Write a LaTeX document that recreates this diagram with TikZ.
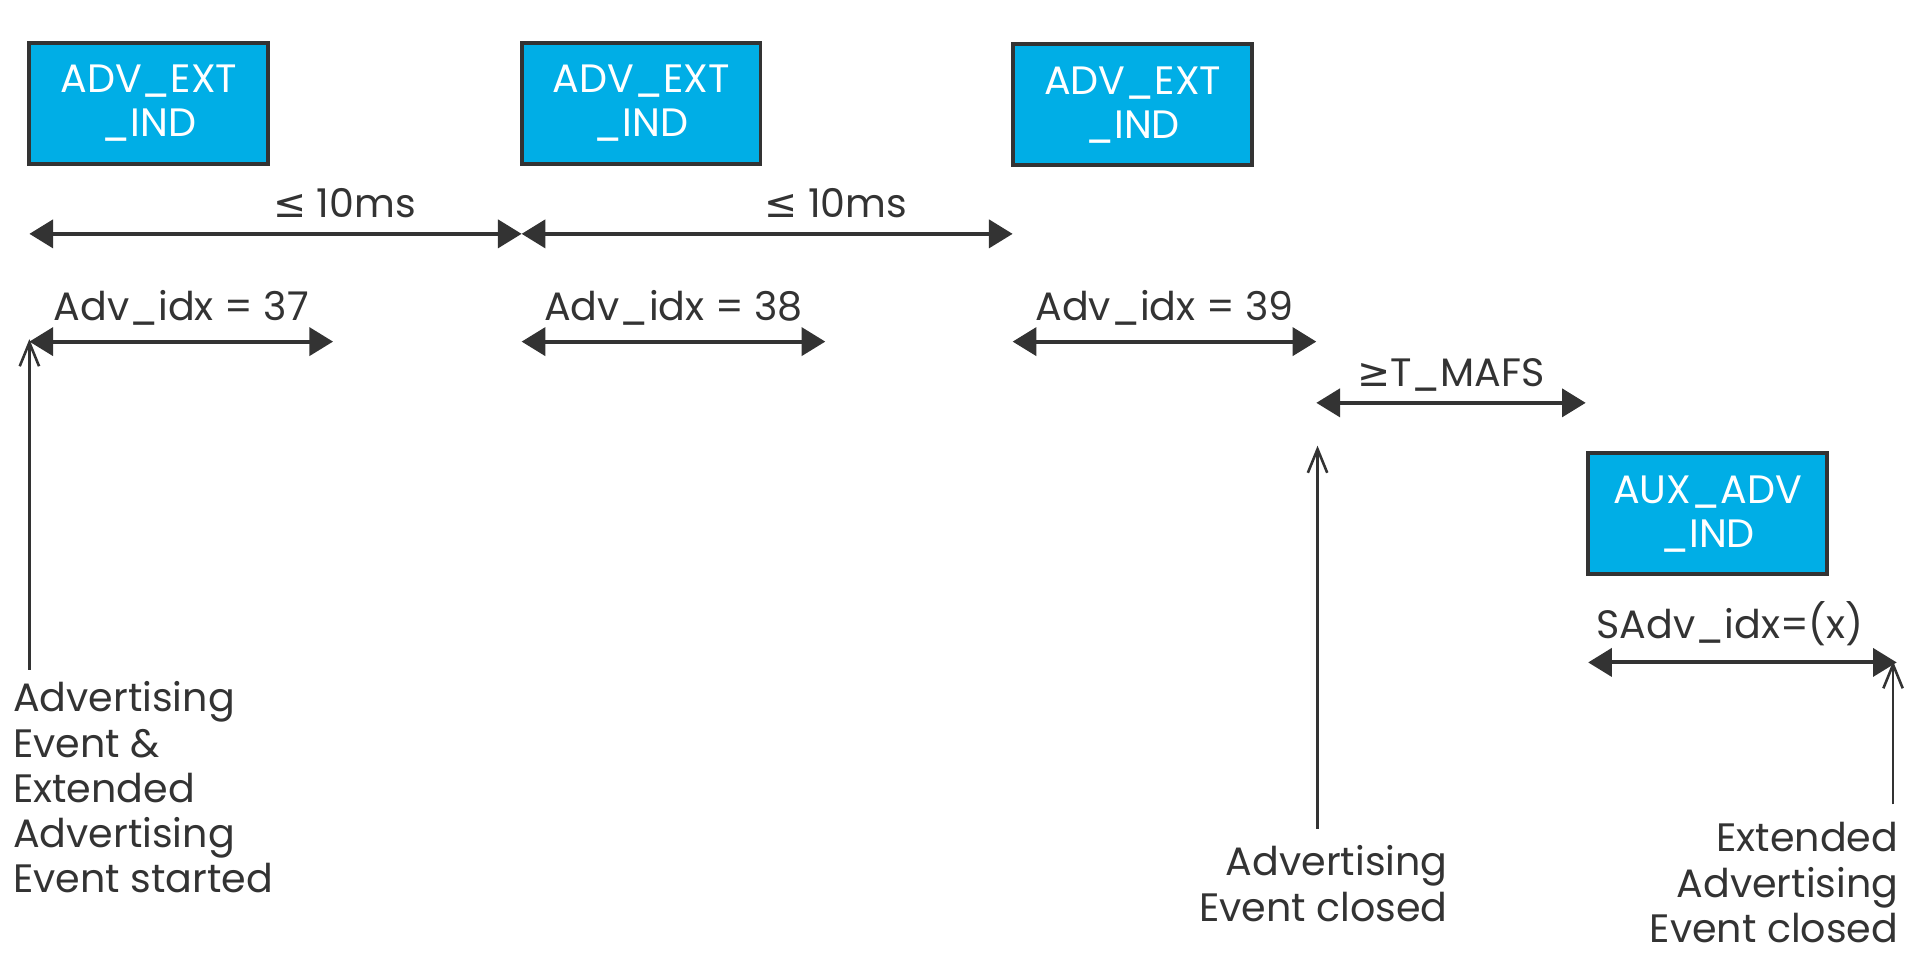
\documentclass[tikz,border=0pt]{standalone}
\usepackage{fontspec}
\setmainfont{Poppins}
\newfontfamily\relfont{DejaVu Sans}
\usetikzlibrary{arrows.meta}

\definecolor{pducyan}{HTML}{00AEE6}
\definecolor{linegray}{HTML}{333333}

\begin{document}
\begin{tikzpicture}[x=0.01cm, y=-0.01cm,
    every node/.style={font=\fontsize{9.2}{10.5}\selectfont, text=linegray},
    pdu/.style={draw=linegray, line width=0.9pt, fill=pducyan, text=white,
        font=\fontsize{9.2}{10.2}\selectfont,
        minimum width=1.95cm, minimum height=0.99cm, align=center, inner sep=0pt},
    dim/.style={linegray, line width=0.9pt, {Triangle[length=5.5pt,width=6.5pt]}-{Triangle[length=5.5pt,width=6.5pt]}},
    evt/.style={linegray, line width=0.6pt, -{Straight Barb[length=5.5pt,width=4.5pt]}}]
            \useasboundingbox (0,0) rectangle (1568,783);

            % PDUs on the primary and secondary channels
            \node (ext_a) at (121.5, 84.5) [pdu] {ADV\_EXT\\\_IND};
            \node (ext_b) at (523.5, 84.5) [pdu] {ADV\_EXT\\\_IND};
            \node (ext_c) at (925, 85.5) [pdu] {ADV\_EXT\\\_IND};
            \node (aux) at (1394.5, 419.5) [pdu] {AUX\_ADV\\\_IND};

            % spacing between the PDUs
            \coordinate (gap_a) at (24, 191);
            \coordinate (gap_b) at (426, 191);
            \coordinate (gap_c) at (827, 191);

            \draw [dim] (gap_a) -- (gap_b) node[pos=0.64, above=0pt] {{\relfont ≤} 10ms};
            \draw [dim] (gap_b) -- (gap_c) node[pos=0.64, above=0pt] {{\relfont ≤} 10ms};

            % length of each PDU
            \coordinate (len_a1) at (24, 279);
            \coordinate (len_a2) at (272, 279);
            \coordinate (len_b1) at (426, 279);
            \coordinate (len_b2) at (674, 279);
            \coordinate (len_c1) at (827, 279);
            \coordinate (len_c2) at (1075, 279);

            \draw [dim] (len_a1) -- (len_a2) node[midway, above=0pt] {Adv\_idx = 37};
            \draw [dim] (len_b1) -- (len_b2) node[midway, above=0pt] {Adv\_idx = 38};
            \draw [dim] (len_c1) -- (len_c2) node[midway, above=0pt] {Adv\_idx = 39};

            \coordinate (mafs_a) at (1075, 329);
            \coordinate (mafs_b) at (1295, 329);
            \draw [dim] (mafs_a) -- (mafs_b) node[midway, above=-1pt] {{\relfont ≥}T\_MAFS};

            \coordinate (aux_a) at (1297, 541);
            \coordinate (aux_b) at (1549, 541);
            \draw [dim] (aux_a) -- (aux_b) node[pos=0.46, above=0pt] {SAdv\_idx=(x)};

            % events
            \node (ev_start) at (10, 556) [anchor=north west, align=left, inner sep=0pt]
                {Advertising\\Event \&\\Extended\\Advertising\\Event started};
            \node (ev_close) at (1183, 690) [anchor=north east, align=right, inner sep=0pt]
                {Advertising\\Event closed};
            \node (ev_ext) at (1551, 671) [anchor=north east, align=right, inner sep=0pt]
                {Extended\\Advertising\\Event closed};

            \coordinate (start_tip) at (24, 277);
            \coordinate (start_foot) at (24, 547);
            \coordinate (close_tip) at (1076, 364);
            \coordinate (close_foot) at (1076, 677);
            \coordinate (ext_tip) at (1546, 540);
            \coordinate (ext_foot) at (1546, 657);

            \draw [evt] (start_foot) -- (start_tip);
            \draw [evt] (close_foot) -- (close_tip);
            \draw [evt] (ext_foot) -- (ext_tip);
        \end{tikzpicture}
\end{document}
